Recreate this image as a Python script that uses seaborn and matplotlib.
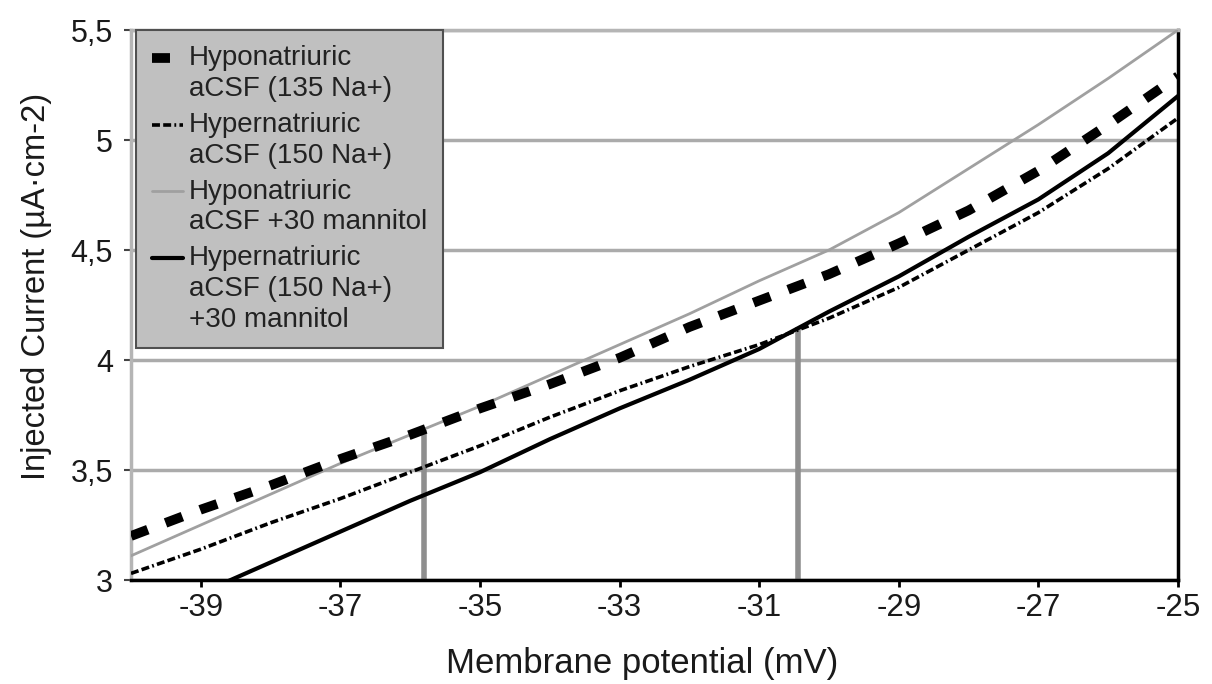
import numpy as np
import pandas as pd
import matplotlib
matplotlib.use("Agg")
import matplotlib.pyplot as plt
from matplotlib.legend_handler import HandlerLine2D
import seaborn as sns

# ---- data ----
membrane_mv = [-40, -39, -38, -37, -36, -35, -34, -33, -32, -31, -30, -29, -28, -27, -26, -25]
hypo_135 = [3.20, 3.32, 3.43, 3.55, 3.66, 3.78, 3.89, 4.01, 4.15, 4.27, 4.39, 4.53, 4.68, 4.86, 5.07, 5.29]
hyper_150 = [3.03, 3.14, 3.26, 3.37, 3.49, 3.61, 3.74, 3.86, 3.97, 4.07, 4.19, 4.33, 4.50, 4.67, 4.87, 5.10]
hypo_mannitol = [3.11, 3.25, 3.39, 3.53, 3.66, 3.79, 3.93, 4.07, 4.21, 4.36, 4.50, 4.67, 4.87, 5.07, 5.28, 5.50]
hyper_mannitol = [np.nan, 2.94, 3.08, 3.22, 3.36, 3.49, 3.64, 3.78, 3.91, 4.05, 4.22, 4.38, 4.56, 4.73, 4.94, 5.20]

series_labels = [
    "Hyponatriuric\naCSF (135 Na+)",
    "Hypernatriuric\naCSF (150 Na+)",
    "Hyponatriuric\naCSF +30 mannitol",
    "Hypernatriuric\naCSF (150 Na+)\n+30 mannitol",
]
drop_x = [-35.8, -30.45]
drop_top = [3.68, 4.15]

x_ticks = [-39, -37, -35, -33, -31, -29, -27, -25]
y_ticks = [3, 3.5, 4, 4.5, 5, 5.5]
y_ticklabels = ["3", "3,5", "4", "4,5", "5", "5,5"]

# ---- style ----
sns.set_theme(style="white")
plt.rcParams["font.family"] = ["Liberation Sans", "DejaVu Sans"]
plt.rcParams["axes.unicode_minus"] = False

fig = plt.figure(figsize=(12.12, 6.84), dpi=100)
ax = fig.add_axes([131 / 1212, 104 / 684, 1047 / 1212, 550 / 684])

styles = [
    dict(color="black", lw=7, linestyle=(0, (1.85, 1.95)), solid_capstyle="butt", dash_capstyle="butt", zorder=4),
    dict(color="black", lw=2.6, linestyle=(0, (2.2, 0.9, 2.2, 0.9, 0.5, 0.9)), dash_capstyle="butt", zorder=3),
    dict(color="#a0a0a0", lw=2.0, linestyle="-", zorder=3),
    dict(color="black", lw=3.0, linestyle="-", zorder=3),
]
all_series = [hypo_135, hyper_150, hypo_mannitol, hyper_mannitol]

for vals, lab, st in zip(all_series, series_labels, styles):
    df = pd.DataFrame({"mV": membrane_mv, "I": vals})
    sns.lineplot(data=df, x="mV", y="I", ax=ax, label=lab, estimator=None,
                 errorbar=None, sort=False, **st)

ax.vlines(drop_x, 3, drop_top, color="#8e8e8e", lw=4, zorder=2)

ax.set_xlim(-40, -25)
ax.set_ylim(3, 5.5)
ax.set_xticks(x_ticks)
ax.set_yticks(y_ticks)
ax.set_yticklabels(y_ticklabels)
ax.yaxis.grid(True, color="#ababab", lw=2.5, zorder=0)
ax.xaxis.grid(False)
ax.set_axisbelow(True)

for side in ["top", "left"]:
    ax.spines[side].set_color("#b5b5b5")
    ax.spines[side].set_linewidth(2.5)
for side in ["bottom", "right"]:
    ax.spines[side].set_color("black")
    ax.spines[side].set_linewidth(2.5)

ax.tick_params(axis="x", direction="out", length=5, width=2, color="black",
               labelsize=22.5, pad=4, bottom=True, labelcolor="#1a1a1a")
ax.tick_params(axis="y", direction="out", length=5, width=1.5, color="#444444",
               labelsize=22, pad=8, left=True, labelcolor="#1a1a1a")

ax.set_xlabel("Membrane potential (mV)", fontsize=25, color="#1a1a1a")
ax.set_ylabel("Injected Current (µA·cm-2)", fontsize=23.5, color="#1a1a1a")
ax.xaxis.set_label_coords(0.488, -0.122)
ax.yaxis.set_label_coords(-0.075, 0.533)


class TopAlignedLine(HandlerLine2D):
    """Place the legend sample next to the first line of a multi-line label."""
    def __init__(self, shift_pt, **kw):
        super().__init__(**kw)
        self.shift_pt = shift_pt

    def create_artists(self, legend, orig_handle, xdescent, ydescent,
                       width, height, fontsize, trans):
        return super().create_artists(legend, orig_handle, xdescent,
                                      ydescent - 2 * self.shift_pt,
                                      width, height, fontsize, trans)


handles, labels = ax.get_legend_handles_labels()
line_step_pt = 22.8
hmap = {h: TopAlignedLine(line_step_pt * (lab.count("\n")) / 2.0)
        for h, lab in zip(handles, labels)}

leg = ax.legend(handles, labels, handler_map=hmap,
                loc="upper left", bbox_to_anchor=(0.005, 1.0), borderaxespad=0,
                fontsize=20, handlelength=1.15, handletextpad=0.2,
                labelspacing=0.36, borderpad=0.55, frameon=True, fancybox=False,
                facecolor="#c0c0c0", edgecolor="#505050", framealpha=1)
leg.get_frame().set_linewidth(1.5)
for t in leg.get_texts():
    t.set_linespacing(1.235)
    t.set_color("#222222")

fig.savefig("out.png", dpi=100, facecolor="white")
